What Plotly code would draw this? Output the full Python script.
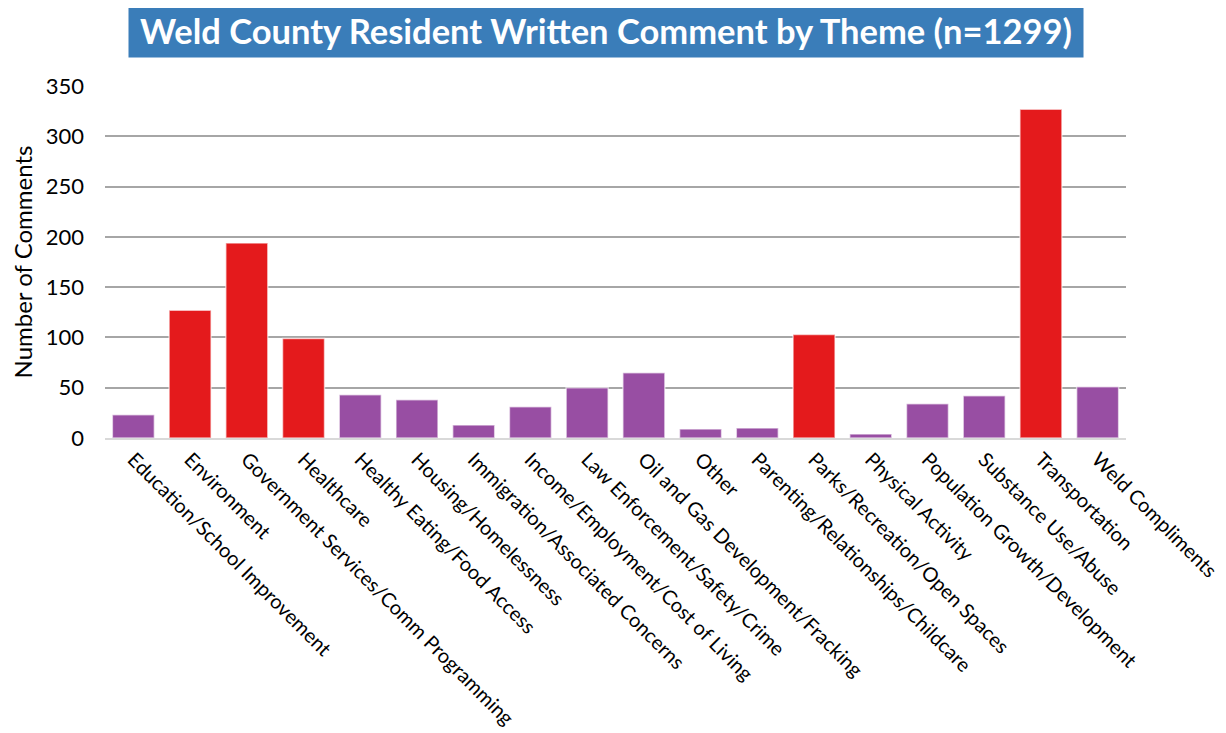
import plotly.graph_objects as go

categories = [
    "Education/School Improvement", "Environment", "Government Services/Comm Programming",
    "Healthcare", "Healthy Eating/Food Access", "Housing/Homelessness",
    "Immigration/Associated Concerns", "Income/Employment/Cost of Living",
    "Law Enforcement/Safety/Crime", "Oil and Gas Development/Fracking", "Other",
    "Parenting/Relationships/Childcare", "Parks/Recreation/Open Spaces",
    "Physical Activity", "Population Growth/Development", "Substance Use/Abuse",
    "Transportation", "Weld Compliments",
]
values = [23, 127, 194, 99, 43, 38, 13, 31, 50, 65, 9, 10, 103, 4, 34, 42, 327, 51]
highlight = [False, True, True, True, False, False, False, False, False, False,
             False, False, True, False, False, False, True, False]

RED = "#E41A1C"
PURPLE = "#984EA3"
colors = [RED if h else PURPLE for h in highlight]

FONT = "Lato"

fig = go.Figure(go.Bar(
    x=categories, y=values,
    marker=dict(color=colors, line=dict(color="rgba(255,255,255,0.6)", width=1.5)),
    width=0.74,
))

fig.update_layout(
    width=1226, height=733,
    margin=dict(l=97, r=103, t=78, b=302),
    plot_bgcolor="white", paper_bgcolor="white",
    font=dict(family=FONT, color="black", size=20),
    showlegend=False,
    bargap=0.26,
    annotations=[dict(
        text="<b>Weld County Resident Written Comment by Theme (n=1299)</b>",
        xref="paper", yref="paper", x=(600 - 97) / 1026, y=1, yshift=56,
        xanchor="center", yanchor="middle", showarrow=False,
        font=dict(family=FONT, size=34.5, color="white"),
        bgcolor="#3A7DB9", width=948, height=48, borderpad=3,
    )],
)
fig.update_yaxes(
    range=[0, 350], dtick=50, showgrid=True, gridcolor="#A6A6A6", gridwidth=2,
    zeroline=False, showline=False, ticks="", tickfont=dict(size=22),
    ticklabelstandoff=20,
    title=dict(text="Number of Comments", font=dict(size=24), standoff=8),
)
fig.update_xaxes(
    tickangle=45, showline=True, linecolor="#D9D9D9", linewidth=2,
    ticks="", tickfont=dict(size=20),
)

fig.write_html("out.html")
